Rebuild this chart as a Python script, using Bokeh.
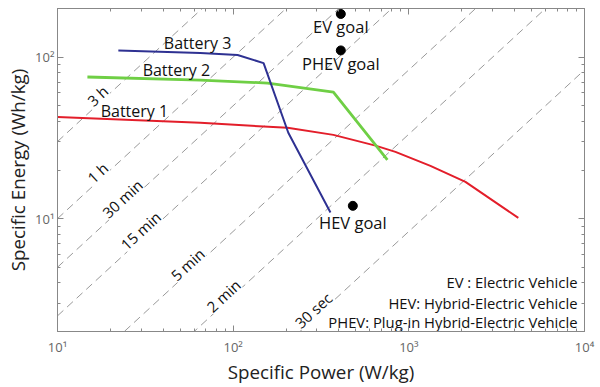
from bokeh.plotting import figure
from bokeh.models import Range1d, LogAxis, ColumnDataSource, FixedTicker
from bokeh.core.properties import value
from bokeh.embed import file_html
from bokeh.resources import INLINE

FONT = "Open Sans"

# ---- data ----
b1_power = [10, 65, 204, 372, 646, 839, 1327, 2100, 4200]
b1_energy = [42.6, 39.2, 36.5, 33.0, 28.3, 25.9, 21.2, 16.9, 10.1]
b2_power = [14.8, 65, 157, 372, 755]
b2_energy = [75.3, 72.1, 69.1, 60.8, 23.1]
b3_power = [22.2, 65, 106, 149, 206, 358]
b3_energy = [110, 106, 103, 91.8, 34, 10.9]

goal_names = ["EV goal", "PHEV goal", "HEV goal"]
goal_power = [410, 410, 480]
goal_energy = [185, 110, 12.0]

time_hours = [3, 1, 0.5, 0.25, 1 / 12, 1 / 30, 1 / 120]
time_labels = ["3 h", "1 h", "30 min", "15 min", "5 min", "2 min", "30 sec"]
time_label_power = [16.9, 16.9, 23.4, 29.7, 55, 88, 286]

battery_names = ["Battery 1", "Battery 2", "Battery 3"]
battery_label_power = [27.4, 47.5, 62.7]
battery_label_energy = [46.7, 83.3, 122]

legend_lines = ["EV : Electric Vehicle",
                "HEV: Hybrid-Electric Vehicle",
                "PHEV: Plug-in Hybrid-Electric Vehicle"]
legend_energy = [4.17, 3.10, 2.34]

x_major = [10, 100, 1000, 10000]
x_tick_labels = ["10¹", "10²", "10³", "10⁴"]
y_major = [10, 100]
y_tick_labels = ["10¹", "10²"]

x_minor = [m * d for d in (10, 100, 1000) for m in range(2, 10)]
y_minor = [m * d for d in (1, 10, 100) for m in range(2, 10)]

# ---- figure ----
p = figure(width=600, height=387, x_axis_type="log", y_axis_type="log",
           x_range=Range1d(10, 10000), y_range=Range1d(2, 200),
           output_backend="svg", toolbar_location=None,
           min_border_left=57, min_border_top=8, min_border_right=16,
           min_border_bottom=53)
p.grid.visible = False
p.outline_line_color = "#888888"
p.background_fill_color = "white"

AX = "#888888"
xt = FixedTicker(ticks=x_major, minor_ticks=x_minor)
yt = FixedTicker(ticks=y_major, minor_ticks=y_minor)
p.xaxis[0].ticker = xt
p.yaxis[0].ticker = yt
p.xaxis[0].major_label_overrides = dict(zip(x_major, x_tick_labels))
p.yaxis[0].major_label_overrides = dict(zip(y_major, y_tick_labels))

for ax in (p.xaxis[0], p.yaxis[0]):
    ax.axis_line_color = AX
    ax.major_tick_line_color = AX
    ax.minor_tick_line_color = AX
    ax.major_tick_in = 6
    ax.major_tick_out = 0
    ax.minor_tick_in = 3
    ax.minor_tick_out = 0
    ax.major_label_text_font = FONT
    ax.major_label_text_font_size = "13px"
    ax.major_label_text_color = "#666666"
    ax.axis_label_text_font = FONT
    ax.axis_label_text_font_size = "18.8px"
    ax.axis_label_text_font_style = "normal"
    ax.axis_label_text_color = "#222222"
    ax.axis_label_text_line_height = 1.0

p.xaxis.axis_label = "Specific Power (W/kg)"
p.yaxis.axis_label = "Specific Energy (Wh/kg)"
p.xaxis.major_label_standoff = 6
p.xaxis.axis_label_standoff = 0
p.yaxis.major_label_standoff = 3
p.yaxis.axis_label_standoff = 1

for loc, tk in (("above", xt), ("right", yt)):
    ax = LogAxis(ticker=tk, axis_line_color=AX, major_tick_line_color=AX,
                 minor_tick_line_color=AX,
                 major_tick_in=6, major_tick_out=0, minor_tick_in=3, minor_tick_out=0,
                 major_label_text_font_size="1px", major_label_text_alpha=0,
                 major_label_standoff=0)
    p.add_layout(ax, loc)

# constant-time dashed lines
for t in time_hours:
    p.line([10, 10000], [10 * t, 10000 * t], line_color="#999999",
           line_dash="8 5", line_width=1)

time_src = ColumnDataSource(dict(
    x=time_label_power,
    y=[pw * t for pw, t in zip(time_label_power, time_hours)],
    text=time_labels))
p.text(x="x", y="y", text="text", source=time_src, angle=0.745,
       text_align="center", text_baseline="middle", y_offset=-9,
       text_font=value(FONT), text_font_size="15px", text_color="#111111",
       background_fill_color="white", background_fill_alpha=1.0)

# batteries
p.line(b1_power, b1_energy, line_color="#e31e2a", line_width=2)
p.line(b2_power, b2_energy, line_color="#6fcf45", line_width=2.8)
p.line(b3_power, b3_energy, line_color="#2e3192", line_width=2)

p.text(x=battery_label_power, y=battery_label_energy, text=battery_names,
       text_align="center", text_baseline="middle",
       text_font=value(FONT), text_font_size="16px", text_color="#111111")

# goals
p.scatter(goal_power, goal_energy, size=9, color="black")
p.text(x=goal_power, y=goal_energy, text=goal_names, text_align="center",
       text_baseline="middle", y_offset=[13, 13, 17],
       text_font=value(FONT), text_font_size="16.5px", text_color="#111111")

# abbreviations
p.text(x=[9120] * 3, y=legend_energy, text=legend_lines, text_align="right",
       text_baseline="middle", y_offset=2, text_font=value(FONT),
       text_font_size="14.8px", text_color="#111111")

open("out.html", "w").write(file_html(p, INLINE))
